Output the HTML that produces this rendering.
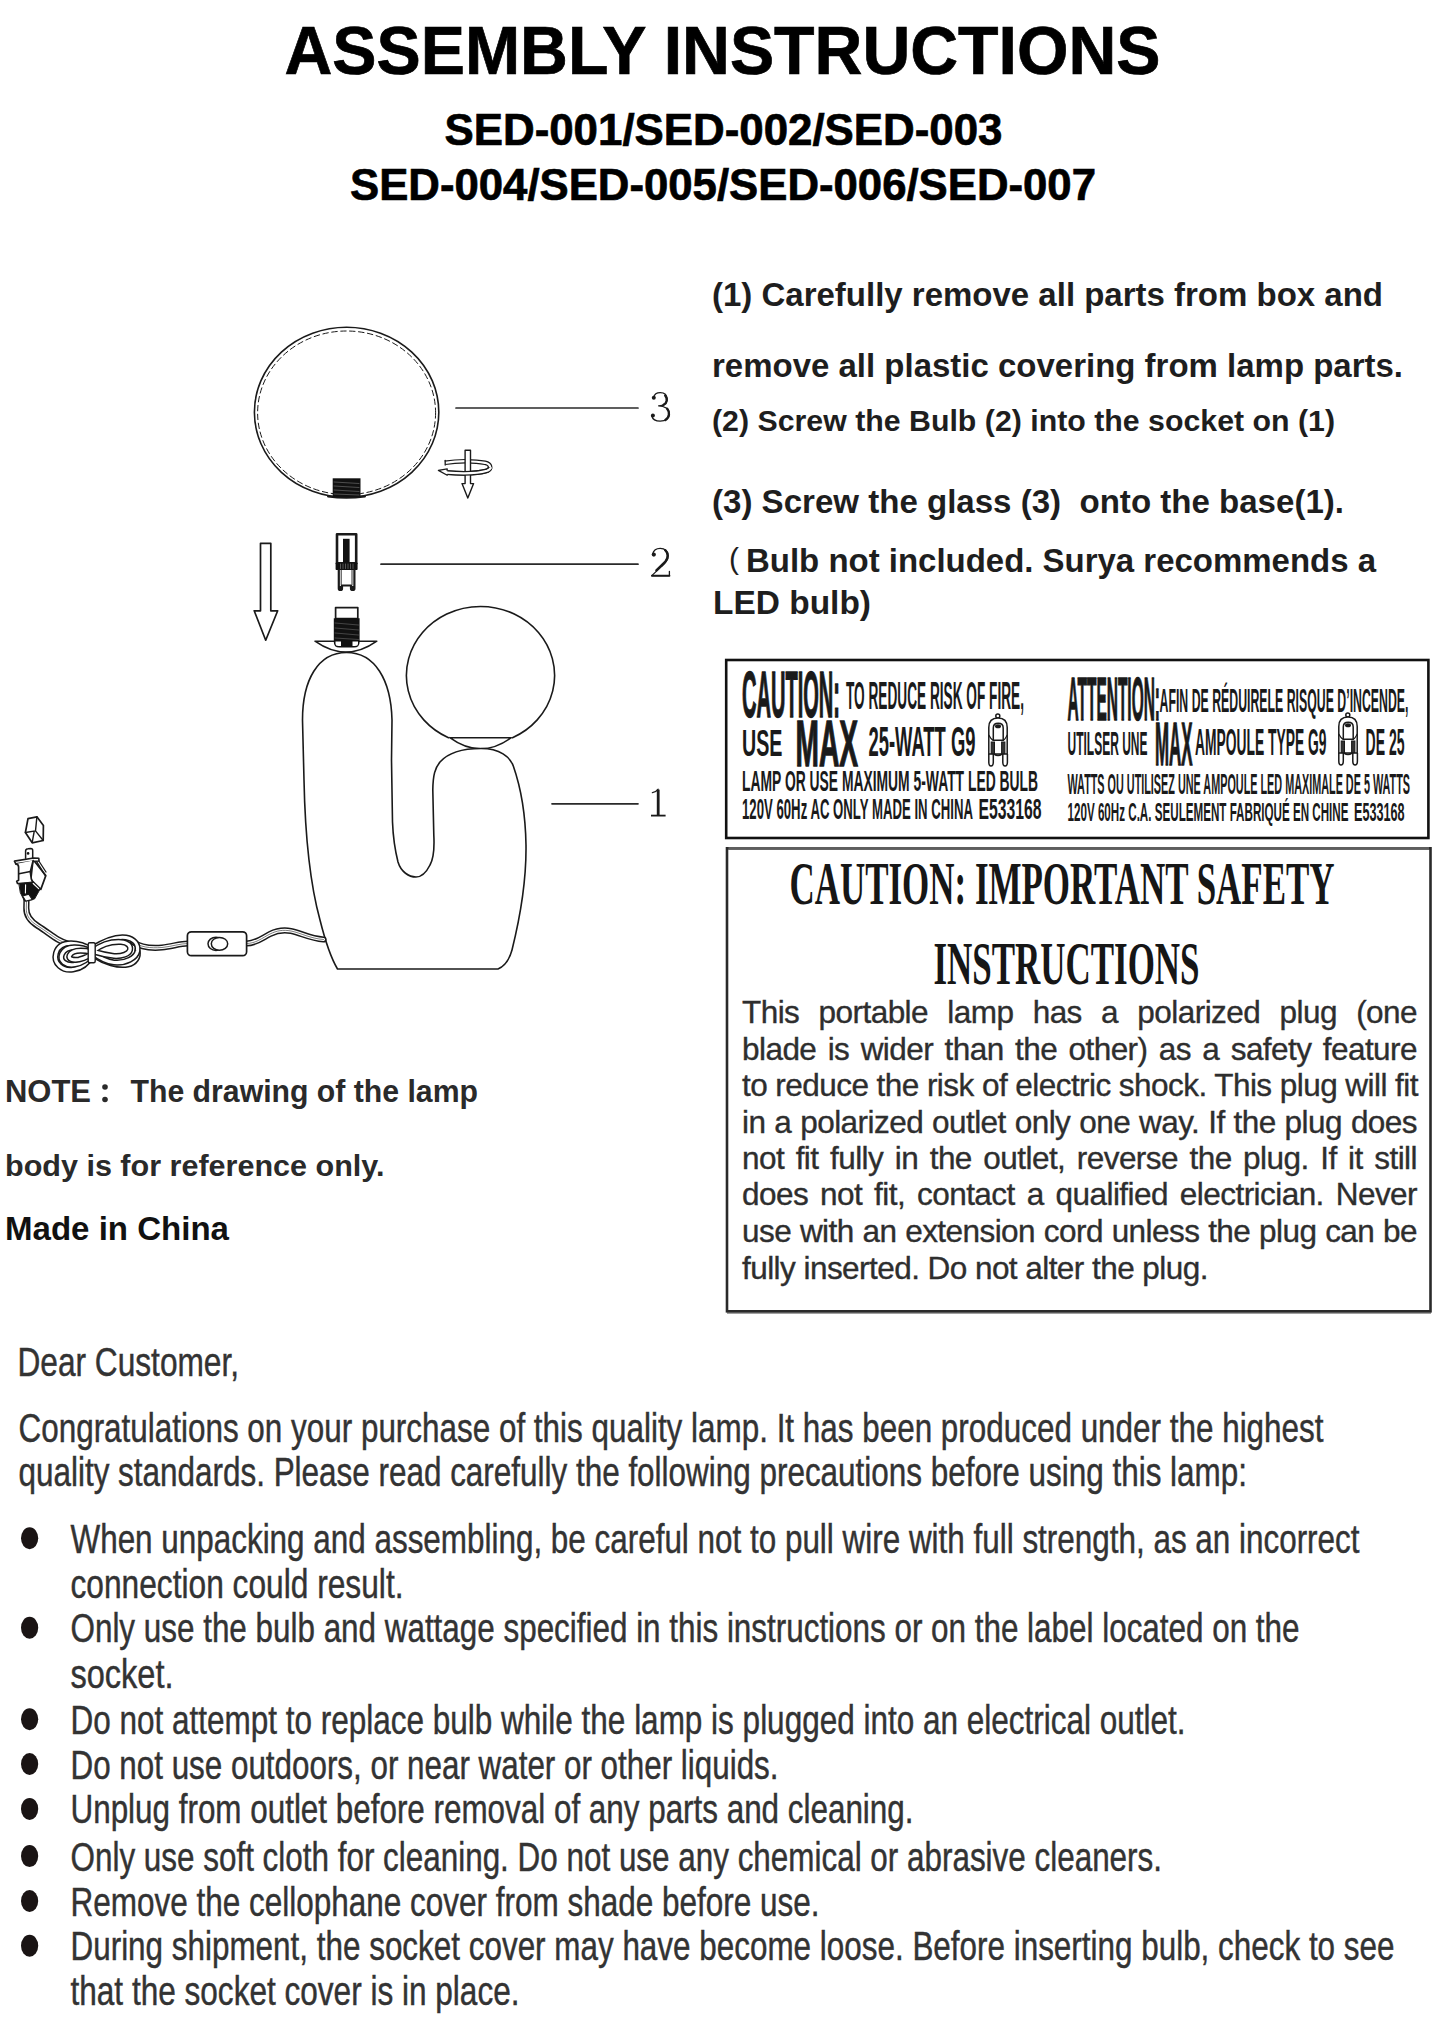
<!DOCTYPE html>
<html><head><meta charset="utf-8">
<style>
html,body{margin:0;padding:0;background:#fff;}
body{width:1445px;height:2026px;overflow:hidden;position:relative;font-family:"Liberation Sans",sans-serif;}
svg{position:absolute;left:0;top:0;}
.jl{position:absolute;left:742px;width:675px;font-family:"Liberation Sans",sans-serif;font-size:31.5px;line-height:31.5px;letter-spacing:-0.55px;-webkit-text-stroke:0.35px #2e2e2e;color:#2e2e2e;text-align:justify;text-align-last:justify;white-space:nowrap;}
.jl.last{text-align-last:left;}
</style></head><body>
<svg width="1445" height="2026" viewBox="0 0 1445 2026">
<!-- HEADER -->
<g font-family="Liberation Sans" font-weight="bold" fill="#000" stroke="#000" stroke-width="0.7">
<text x="284.5" y="74.4" font-size="69" textLength="876" lengthAdjust="spacingAndGlyphs">ASSEMBLY INSTRUCTIONS</text>
<text x="444.5" y="145" font-size="45" textLength="558" lengthAdjust="spacingAndGlyphs">SED-001/SED-002/SED-003</text>
<text x="350" y="200" font-size="45" textLength="746" lengthAdjust="spacingAndGlyphs">SED-004/SED-005/SED-006/SED-007</text>
</g>
<!-- STEPS -->
<g font-family="Liberation Sans" font-weight="bold" fill="#1e1e1e">
<text x="712" y="306.3" font-size="33" textLength="671" lengthAdjust="spacingAndGlyphs">(1) Carefully remove all parts from box and</text>
<text x="712" y="377" font-size="33" textLength="691" lengthAdjust="spacingAndGlyphs">remove all plastic covering from lamp parts.</text>
<text x="712" y="431" font-size="30" textLength="623" lengthAdjust="spacingAndGlyphs">(2) Screw the Bulb (2) into the socket on (1)</text>
<text x="712" y="512.6" font-size="33" textLength="632" lengthAdjust="spacingAndGlyphs" xml:space="preserve" style="white-space:pre">(3) Screw the glass (3)  onto the base(1).</text>
<text x="729" y="569" font-size="30" font-weight="normal">(</text>
<text x="746" y="571.7" font-size="33" textLength="630" lengthAdjust="spacingAndGlyphs">Bulb not included. Surya recommends a</text>
<text x="713" y="614.3" font-size="33" textLength="158" lengthAdjust="spacingAndGlyphs">LED bulb)</text>
</g>
<!-- NOTE -->
<g font-family="Liberation Sans" font-weight="bold">
<text x="5" y="1102" font-size="31" fill="#2a2a2a" textLength="86" lengthAdjust="spacingAndGlyphs">NOTE</text>
<circle cx="105" cy="1087" r="2.8" fill="#2a2a2a"/><circle cx="105" cy="1099.5" r="2.8" fill="#2a2a2a"/>
<text x="130.5" y="1102" font-size="31" fill="#2a2a2a" textLength="347.5" lengthAdjust="spacingAndGlyphs">The drawing of the lamp</text>
<text x="5" y="1176" font-size="30.2" fill="#2a2a2a" textLength="379.5" lengthAdjust="spacingAndGlyphs">body is for reference only.</text>
<text x="5" y="1240" font-size="32.6" fill="#111" textLength="224" lengthAdjust="spacingAndGlyphs">Made in China</text>
</g>
<!-- DIAGRAM -->
<g id="diagram" fill="none" stroke="#1a1a1a" stroke-width="1.6" stroke-linejoin="round" stroke-linecap="round">
  <!-- globe 3 -->
  <ellipse cx="346.6" cy="412.2" rx="92.2" ry="85"/>
  <ellipse cx="346.6" cy="412.8" rx="89" ry="81.8" stroke-width="1" stroke-dasharray="5.5 3.5"/>
  <path d="M328,496.5 Q346,499 365,496.5" stroke-width="2"/>
  <rect x="332.7" y="478.3" width="27.8" height="19" fill="#111" stroke="none"/>
  <path d="M334,482 L359,483.5 M334,486 L359,487.5 M334,490 L359,491.5 M334,494 L359,495" stroke="#777" stroke-width="0.6"/>
  <line x1="456" y1="408" x2="638" y2="408" stroke="#2a2a2a" stroke-width="1.7"/>
  <!-- rotation icon -->
  <path d="M445,462.8 C458,460.6 475,460.8 485,462.8 C491,464.2 491.8,468.6 487,470.8 C478,473.4 462,473.8 447.5,472.6" stroke-width="4.6" stroke-linecap="butt"/>
  <path d="M445,462.8 C458,460.6 475,460.8 485,462.8 C491,464.2 491.8,468.6 487,470.8 C478,473.4 462,473.8 447.5,472.6" stroke="#fff" stroke-width="2.2" stroke-linecap="butt"/>
  <path d="M445.2,460.5 L445.2,465" stroke-width="1.3"/>
  <path d="M465.1,450.2 L470.5,450.2 L470.5,483.6 L473.6,483.6 L467.8,498.1 L462,483.6 L465.1,483.6 Z" fill="#fff" stroke-width="1.4"/>
  <path d="M490.2,467.2 C489.8,469 488.8,470 487,470.8 C478,473.4 462,473.8 447.5,472.6" stroke-width="4.6" stroke-linecap="butt"/>
  <path d="M491,467.2 C490.6,469 488.8,470 487,470.8 C478,473.4 462,473.8 447,472.6" stroke="#fff" stroke-width="2.2" stroke-linecap="butt"/>
  <path d="M447.2,470.6 L447.2,468.8 L438.4,470.4 L447.2,475.2 L447.2,474.6" fill="#fff" stroke-width="1.3"/>
  <!-- big arrow -->
  <path d="M260.5,543.3 L270.8,543.3 L270.8,610.8 L277.7,610.8 L265.7,640.2 L254.2,610.8 L260.5,610.8 Z" fill="#fff" stroke-width="1.7"/>
  <!-- bulb 2 -->
  <rect x="337" y="534.2" width="19.2" height="29" stroke-width="2.6" fill="#fff"/>
  <rect x="343" y="538.8" width="6.6" height="24" fill="#111" stroke="none"/>
  <rect x="335.6" y="562.4" width="22" height="7.6" rx="0.8" fill="#111" stroke="none"/>
  <path d="M340.5,564 L340.5,568.5 M343,564 L343,568.5 M345.5,564 L345.5,568.5 M348,564 L348,568.5 M350.5,564 L350.5,568.5 M353,564 L353,568.5" stroke="#888" stroke-width="0.6"/>
  <path d="M338.8,570 L338.8,588.5 Q338.8,590 340.5,590 Q342,590 342,588.5 L342,585.5 L351,585.5 L351,588.5 Q351,590 352.8,590 Q354.4,590 354.4,588.5 L354.4,570" stroke-width="2.2" fill="#fff"/>
  <path d="M339,586 L342,586 L342,589.5 L339,589.5 Z M351,586 L354.2,586 L354.2,589.5 L351,589.5 Z" fill="#1a1a1a" stroke="none"/>
  <path d="M341.2,570 L341.2,585 M352,570 L352,585" stroke-width="0.9"/>
  <line x1="381" y1="564.2" x2="638" y2="564.2" stroke="#2a2a2a" stroke-width="1.7"/>
  <!-- socket on base -->
  <rect x="335.6" y="607.6" width="22.2" height="11" fill="#fff" stroke-width="1.7"/>
  <path d="M315,641.2 L376.8,641.2 Q346,663 315,641.2 Z" fill="#fff"/>
  <path d="M333.8,618.3 L359.6,618.3 L359.6,642 Q359.6,647.5 354,647.5 L339.4,647.5 Q333.8,647.5 333.8,642 Z" fill="#111" stroke="none"/>
  <path d="M335.5,641.5 L341,641.5 L341,646 L338.5,646 Q335.5,646 335.5,643.5 Z M352.5,641.5 L358,641.5 L358,643.5 Q358,646 355,646 L352.5,646 Z" fill="#fff" stroke="none"/>
  <path d="M335,623 L358.5,625 M335,628 L358.5,630 M335,633 L358.5,635 M335,638 L358.5,639.5" stroke="#666" stroke-width="0.6"/>
  <!-- globe 1 -->
  <path d="M448.5,737.7 A74.1,69 0 1 1 512.5,737.7"/>
  <path d="M449.8,737.7 L511.3,737.7 Q480.5,760 449.8,737.7"/>
  <!-- body -->
  <path d="M337.5,969 L498,969 C505,966 509,961 512,950 C519,922 526.5,885 526,845 C525.5,815 521,788 513.3,766 C510,757 500,748.5 481,748.5 C460,748.5 447,754 440,762 C435,768 433,775 432.8,790 L433.8,835 C434.5,848 434,858 430,865 C426,873 421,877 416,877 C409,877 401,872 398,862 C395,850 393,835 392.5,822 L391.5,760 L392,720 C391,680 375,652.5 346.5,652.5 C318,652.5 302.5,680 302.5,720 L304,780 C305,830 309,880 320,920 C325,940 331,958 337.5,969 Z" fill="#fff"/>
  <line x1="552" y1="803.8" x2="638" y2="803.8" stroke="#2a2a2a" stroke-width="1.7"/>
  <!-- cord -->
  <defs>
    <path id="cA" d="M26.5,899 L26.3,908 C26,916 30,921 38,926 C46,931 52,936 58,939.5 C68,945.5 84,948 92,950.5"/>
    <path id="cL1" d="M92,950 C80,942 60,939 56,953 C53,964 63,971 73,969.5 C83,968 89,961 92,955"/>
    <path id="cL2" d="M92,951.5 C80,946 66,945 62,954 C59,961 66,966 75,964.5 C83,963 89,958 92,954"/>
    <path id="cL3" d="M92,952 C82,950 72,950 69.5,955.5 C68,959 73,960.5 79,959.5 C85,958 90,955.5 92,953"/>
    <path id="cR1" d="M92,948.5 C104,941 116,936 126,937.5 C134,939 138.5,944 137.5,951 C136,958 126,963.5 114,962.5 C104,961.5 97,956 92,952"/>
    <path id="cR2" d="M93,951 C102,944 112,941.5 121,942 C128,942.5 131,946 130,950 C129,954 122,956.5 114,956 C105,955 98,953 93,951.5"/>
    <path id="cR3" d="M95,956 C104,962 118,966.5 128,964.5 C135,963 139,957 137.5,951"/>
    <path id="cB" d="M133,942 C140,947 150,948.5 162,947.5 C172,946.5 180,943.5 188,943.5 M246.5,943.5 C256,943.5 262,938 270,934 C277,930.5 283,929.5 291,931 C301,933 310,938.5 323.5,939.5"/>
  </defs>
  <use href="#cA" stroke-width="6.2"/><use href="#cA" stroke="#fff" stroke-width="3.2"/><use href="#cA" stroke="#444" stroke-width="0.7"/>
  <use href="#cB" stroke-width="6.2"/><use href="#cB" stroke="#fff" stroke-width="3.2"/><use href="#cB" stroke="#444" stroke-width="0.7"/>
  <use href="#cL1" stroke-width="6.2"/><use href="#cL1" stroke="#fff" stroke-width="3.2"/>
  <use href="#cL2" stroke-width="6.2"/><use href="#cL2" stroke="#fff" stroke-width="3.2"/>
  <use href="#cL3" stroke-width="6.2"/><use href="#cL3" stroke="#fff" stroke-width="3.2"/>
  <use href="#cR3" stroke-width="6.2"/><use href="#cR3" stroke="#fff" stroke-width="3.2"/>
  <use href="#cR1" stroke-width="6.2"/><use href="#cR1" stroke="#fff" stroke-width="3.2"/>
  <use href="#cR2" stroke-width="6.2"/><use href="#cR2" stroke="#fff" stroke-width="3.2"/>
  <rect x="88.2" y="942.8" width="7" height="20" rx="1.5" fill="#fff" stroke-width="1.4"/>
  <!-- switch -->
  <rect x="187.4" y="931.8" width="59.2" height="23.9" rx="4" fill="#fff" stroke-width="1.7"/>
  <ellipse cx="216" cy="943.8" rx="8" ry="6.6" stroke-width="1.5"/>
  <ellipse cx="219.5" cy="943.8" rx="8.2" ry="6.4" stroke-width="1.5" fill="#fff"/>
  <!-- plug -->
  <path d="M28,818.7 L36.9,816.8 L43.4,825.5 L43.2,840.5 L32.2,842.8 L25.4,832.5 Z" stroke-width="1.7" fill="#fff"/>
  <path d="M25.4,832.5 L35.5,830.9 L36.9,816.8 M35.5,830.9 L43.2,840.5 M34.1,832 L32.2,842.3" stroke-width="1.4"/>
  <path d="M25.6,858.3 L25.6,851 Q25.6,848.9 28,848.7 L30.8,848.4 Q32.7,848.4 32.7,850.5 L32.7,858.3" stroke-width="1.5" fill="#fff"/>
  <circle cx="28.1" cy="853.4" r="1.3" fill="#111" stroke="none"/>
  <path d="M33.1,859.5 L45.8,875.6 L40.8,889.4 L30.8,879.6 Z" fill="#fff" stroke-width="1.7"/>
  <path d="M35,858.8 L45.3,875.6 M37.2,858.5 L46,872" stroke-width="1.3"/>
  <path d="M14.4,861.1 L33.6,858 L38.8,858.3 L39,861 L33.1,861.2 L15.8,863.9 Z" fill="#fff" stroke-width="1.6"/>
  <path d="M15.8,863.9 Q18.6,864.5 18.6,867 L18.6,880.3 L16.7,881.3 L17.5,883.5 L33,883 L31.3,878.9 L30.3,871.9 L33.1,860.6" fill="#fff" stroke-width="1.7"/>
  <path d="M19,873.8 L30.3,871.4" stroke-width="1.5"/>
  <path d="M19.2,883.6 L32,882 L39.8,889.6 L34.5,899 L24.5,901 L20.5,893 Z" fill="#111" stroke-width="1"/>
  <path d="M25.6,884.8 L25.4,893 M33.2,883.5 L38.6,888.6" stroke="#fff" stroke-width="1.1"/>
  <path d="M22.6,896 L28.8,894.2 L32.4,899.6 L25.8,901.2 Z" fill="#fff" stroke-width="1.2"/>
</g>
<!-- numbers -->
<g fill="none" stroke="#1a1a1a" stroke-linecap="round" stroke-linejoin="round">
  <path d="M653.5,397.5 C654.5,393.8 657.2,392.6 660.2,392.6 C664.6,392.6 667,395.3 667,399.2 C667,403 663.8,405.6 658.6,405.8 C664.8,406 669.2,409 669.2,413.8 C669.2,418.6 665.2,421.2 660.2,421.2 C655.6,421.2 652.6,419.2 651.8,416" stroke-width="1.3"/>
  <path d="M665.2,395.6 C667.6,398.6 667.4,402.8 663.6,404.8 M667.2,408.8 C669.8,412 669.8,417.2 665.4,420" stroke-width="2.4"/>
  <circle cx="653.8" cy="397.8" r="2" fill="#1a1a1a" stroke="none"/>
  <circle cx="652.9" cy="415.4" r="2" fill="#1a1a1a" stroke="none"/>
  <path d="M652.6,554.2 C653.6,550.2 656.6,548.4 660.2,548.4 C665,548.4 668.2,551.6 668.2,556 C668.2,560.2 665.6,563 661.6,566.4 L651.8,575.6 L669.4,575.6 L669.4,571.4" stroke-width="1.3"/>
  <path d="M665.2,550.2 C668.2,552.8 668.6,557.8 665.4,561.6 L656.4,570.4" stroke-width="2.4"/>
  <path d="M652,575.8 L669.4,575.8" stroke-width="2"/>
  <circle cx="653.8" cy="554.6" r="2.1" fill="#1a1a1a" stroke="none"/>
  <path d="M658.2,789.6 L658.2,815" stroke-width="2.8" stroke-linecap="butt"/>
  <path d="M658.2,789.2 C656.5,791.6 654.5,792.4 652.4,792.6" stroke-width="1.3"/>
  <path d="M651,815.6 L665.6,815.6" stroke-width="1.8" stroke-linecap="butt"/>
</g>
<!-- CAUTION LABEL -->
<rect x="726.2" y="660" width="702.2" height="178" fill="none" stroke="#111" stroke-width="2.6"/>
<g font-family="Liberation Sans" font-weight="bold" fill="#1a1a1a">
<text x="742" y="717" font-size="64" stroke="#1a1a1a" stroke-width="1.4" textLength="98" lengthAdjust="spacingAndGlyphs">CAUTION:</text>
<text x="846" y="709.4" font-size="38.5" textLength="178" lengthAdjust="spacingAndGlyphs">TO REDUCE RISK OF FIRE,</text>
<text x="742" y="756" font-size="36.5" textLength="40.5" lengthAdjust="spacingAndGlyphs">USE</text>
<text x="795.5" y="766.2" font-size="64" stroke="#1a1a1a" stroke-width="1.4" textLength="62.5" lengthAdjust="spacingAndGlyphs">MAX</text>
<text x="868.5" y="756" font-size="42" textLength="107" lengthAdjust="spacingAndGlyphs">25-WATT G9</text>
<text x="742" y="791.4" font-size="29" textLength="296" lengthAdjust="spacingAndGlyphs">LAMP OR USE MAXIMUM 5-WATT LED BULB</text>
<text x="742" y="819.2" font-size="29" textLength="231" lengthAdjust="spacingAndGlyphs">120V 60Hz AC ONLY MADE IN CHINA</text>
<text x="978.5" y="819.2" font-size="29" textLength="63" lengthAdjust="spacingAndGlyphs">E533168</text>
<text x="1067.5" y="719.7" font-size="61" stroke="#1a1a1a" stroke-width="1.4" textLength="92.5" lengthAdjust="spacingAndGlyphs">ATTENTION:</text>
<text x="1159.5" y="711.5" font-size="33.5" textLength="249" lengthAdjust="spacingAndGlyphs">AFIN DE RÉDUIRELE RISQUE D’INCENDE,</text>
<text x="1067.5" y="755.2" font-size="33.5" textLength="80" lengthAdjust="spacingAndGlyphs">UTILSER UNE</text>
<text x="1155" y="764.8" font-size="61" stroke="#1a1a1a" stroke-width="1.4" textLength="37.5" lengthAdjust="spacingAndGlyphs">MAX</text>
<text x="1195" y="755.2" font-size="37" textLength="131.5" lengthAdjust="spacingAndGlyphs">AMPOULE TYPE G9</text>
<text x="1365.5" y="755.2" font-size="37" textLength="39" lengthAdjust="spacingAndGlyphs">DE 25</text>
<text x="1067.5" y="793.5" font-size="29.5" textLength="342.5" lengthAdjust="spacingAndGlyphs">WATTS OU UTILISEZ UNE AMPOULE LED MAXIMALE DE 5 WATTS</text>
<text x="1067.5" y="820.9" font-size="26" textLength="281" lengthAdjust="spacingAndGlyphs">120V 60Hz C.A. SEULEMENT FABRIQUÉ EN CHINE</text>
<text x="1354" y="820.9" font-size="26" textLength="50.5" lengthAdjust="spacingAndGlyphs">E533168</text>
</g>
<!-- label bulb icons -->
<g id="lbulb" fill="none" stroke="#1a1a1a" stroke-width="1.5">
  <circle cx="997.8" cy="716" r="2"/>
  <path d="M988.8,754 L988.8,727.5 Q988.8,718 998,718 Q1007.2,718 1007.2,727.5 L1007.2,754 Z" fill="#fff"/>
  <path d="M993.3,740.3 L993.3,728 Q993.3,723.3 998.2,723.3 Q1003.2,723.3 1003.2,728 L1003.2,740.3 Z"/>
  <ellipse cx="998" cy="726.3" rx="3" ry="2" fill="#1a1a1a" stroke="none"/>
  <path d="M988.8,735 Q991,739.5 993.3,740.3 M1007.2,735 Q1005,739.5 1003.2,740.3" stroke-width="1.2"/>
  <rect x="991.2" y="742" width="3.3" height="11.6" fill="#333" stroke-width="1"/>
  <rect x="1001.6" y="742" width="3.3" height="11.6" fill="#333" stroke-width="1"/>
  <path d="M988.8,754 L988.8,762 Q988.8,766 991,766 Q993.3,766 993.3,762 L993.3,754 M1002.8,754 L1002.8,762 Q1002.8,766 1005.1,766 Q1007.4,766 1007.4,762 L1007.4,754" stroke-width="1.5"/>
  <path d="M994,754 Q998,757 1002,754" stroke-width="1.6"/>
</g>
<use href="#lbulb" transform="translate(350,-1)"/>
<!-- SAFETY BOX -->
<line x1="727" y1="1313" x2="1431" y2="1313" stroke="#a0a0a0" stroke-width="2"/>
<rect x="727" y="848.3" width="703.5" height="463" fill="none" stroke="#2a2a2a" stroke-width="2.6"/>
<line x1="728.5" y1="848.3" x2="1429" y2="848.3" stroke="#5e5e5e" stroke-width="2.8"/>
<g font-family="Liberation Serif" font-weight="bold" fill="#161616">
<text x="789.5" y="904.4" font-size="61" textLength="545" lengthAdjust="spacingAndGlyphs">CAUTION: IMPORTANT SAFETY</text>
<text x="933.5" y="984" font-size="61" textLength="266" lengthAdjust="spacingAndGlyphs">INSTRUCTIONS</text>
</g>
<!-- CUSTOMER LETTER -->
<g font-family="Liberation Sans" fill="#333" stroke="#333" stroke-width="0.45" font-size="40">
<text x="17.5" y="1375.8" textLength="221.5" lengthAdjust="spacingAndGlyphs">Dear Customer,</text>
<text x="18.5" y="1442.3" textLength="1305" lengthAdjust="spacingAndGlyphs">Congratulations on your purchase of this quality lamp. It has been produced under the highest</text>
<text x="18.5" y="1486" textLength="1228.5" lengthAdjust="spacingAndGlyphs">quality standards. Please read carefully the following precautions before using this lamp:</text>
<text x="70.5" y="1552.8" textLength="1289" lengthAdjust="spacingAndGlyphs">When unpacking and assembling, be careful not to pull wire with full strength, as an incorrect</text>
<text x="70.5" y="1598.2" textLength="333" lengthAdjust="spacingAndGlyphs">connection could result.</text>
<text x="70.5" y="1642.3" textLength="1229" lengthAdjust="spacingAndGlyphs">Only use the bulb and wattage specified in this instructions or on the label located on the</text>
<text x="70.5" y="1687.8" textLength="103" lengthAdjust="spacingAndGlyphs">socket.</text>
<text x="70.5" y="1733.8" textLength="1115" lengthAdjust="spacingAndGlyphs">Do not attempt to replace bulb while the lamp is plugged into an electrical outlet.</text>
<text x="70.5" y="1778.5" textLength="708" lengthAdjust="spacingAndGlyphs">Do not use outdoors, or near water or other liquids.</text>
<text x="70.5" y="1823.4" textLength="843" lengthAdjust="spacingAndGlyphs">Unplug from outlet before removal of any parts and cleaning.</text>
<text x="70.5" y="1870.6" textLength="1091.5" lengthAdjust="spacingAndGlyphs">Only use soft cloth for cleaning. Do not use any chemical or abrasive cleaners.</text>
<text x="70.5" y="1915.5" textLength="749" lengthAdjust="spacingAndGlyphs">Remove the cellophane cover from shade before use.</text>
<text x="70.5" y="1960.3" textLength="1324" lengthAdjust="spacingAndGlyphs">During shipment, the socket cover may have become loose. Before inserting bulb, check to see</text>
<text x="70.5" y="2005.2" textLength="449" lengthAdjust="spacingAndGlyphs">that the socket cover is in place.</text>
</g>
<g fill="#1a1414">
<ellipse cx="29.6" cy="1538.3" rx="8.6" ry="11"/>
<ellipse cx="29.6" cy="1627.8" rx="8.6" ry="11"/>
<ellipse cx="29.6" cy="1719.3" rx="8.6" ry="11"/>
<ellipse cx="29.6" cy="1764.0" rx="8.6" ry="11"/>
<ellipse cx="29.6" cy="1808.9" rx="8.6" ry="11"/>
<ellipse cx="29.6" cy="1856.1" rx="8.6" ry="11"/>
<ellipse cx="29.6" cy="1901.0" rx="8.6" ry="11"/>
<ellipse cx="29.6" cy="1945.8" rx="8.6" ry="11"/>
</g>
</svg>
<div class="jl" style="top:997.4px">This portable lamp has a polarized plug (one</div>
<div class="jl" style="top:1033.8px">blade is wider than the other) as a safety feature</div>
<div class="jl" style="top:1070.3px">to reduce the risk of electric shock. This plug will fit</div>
<div class="jl" style="top:1106.6px">in a polarized outlet only one way. If the plug does</div>
<div class="jl" style="top:1143.3px">not fit fully in the outlet, reverse the plug. If it still</div>
<div class="jl" style="top:1179.2px">does not fit, contact a qualified electrician. Never</div>
<div class="jl" style="top:1215.7px">use with an extension cord unless the plug can be</div>
<div class="jl last" style="top:1252.7px">fully inserted. Do not alter the plug.</div>
</body></html>
